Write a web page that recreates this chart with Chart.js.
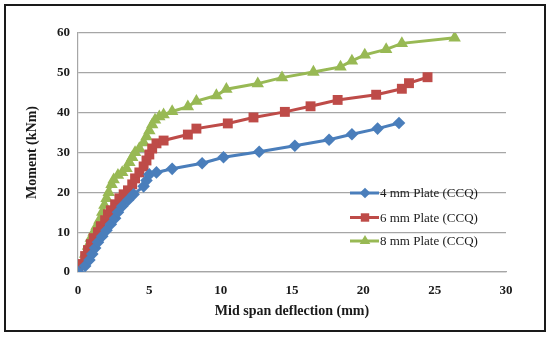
<!DOCTYPE html>
<html>
<head>
<meta charset="utf-8">
<script src="https://cdn.jsdelivr.net/npm/chart.js@4.4.1/dist/chart.umd.min.js"></script>
<style>
  html, body { margin: 0; padding: 0; background: #fff; }
  #wrap { position: relative; width: 550px; height: 338px; }
  #frame { position: absolute; left: 4px; top: 4px; width: 538px; height: 324px; border: 2px solid #1a1a1a; pointer-events: none; }
  canvas { position: absolute; left: 0; top: 0; }
</style>
</head>
<body>
<div id="wrap">
  <canvas id="c" width="550" height="338"></canvas>
  <div id="frame"></div>
</div>
<script>
const seriesNames = ["4 mm Plate (CCQ)", "6 mm Plate (CCQ)", "8 mm Plate (CCQ)"];

const deflection4 = [0, 0.5, 0.8, 1.0, 1.2, 1.4, 1.7, 2.0, 2.3, 2.6, 2.8, 3.1, 3.5, 3.9, 4.6, 4.8, 5.0, 5.5, 6.6, 8.7, 10.2, 12.7, 15.2, 17.6, 19.2, 21.0, 22.5];
const moment4     = [0, 1.5, 3.0, 4.5, 6.0, 7.5, 9.0, 10.5, 12.0, 13.5, 15.0, 16.5, 18.0, 19.5, 21.5, 23.0, 24.5, 25.0, 25.9, 27.3, 28.8, 30.2, 31.7, 33.2, 34.6, 36.0, 37.4];

const deflection6 = [0, 0.3, 0.5, 0.7, 0.9, 1.1, 1.4, 1.6, 1.9, 2.1, 2.3, 2.6, 2.9, 3.2, 3.5, 3.8, 4.0, 4.3, 4.6, 4.8, 5.0, 5.2, 5.5, 6.0, 7.7, 8.3, 10.5, 12.3, 14.5, 16.3, 18.2, 20.9, 22.7, 23.2, 24.5];
const moment6     = [0, 2.0, 4.0, 5.5, 7.0, 8.5, 10.0, 11.5, 13.0, 14.5, 15.5, 17.0, 18.5, 19.5, 20.5, 22.0, 23.5, 25.0, 26.5, 28.0, 29.5, 31.0, 32.3, 33.0, 34.5, 36.0, 37.3, 38.8, 40.2, 41.6, 43.2, 44.5, 46.0, 47.4, 48.9];

const deflection8 = [0, 0.3, 0.5, 0.7, 0.9, 1.1, 1.3, 1.5, 1.7, 1.85, 2.0, 2.15, 2.35, 2.5, 2.8, 3.1, 3.4, 3.6, 3.8, 4.0, 4.3, 4.6, 4.8, 5.0, 5.2, 5.4, 5.7, 6.0, 6.6, 7.7, 8.3, 9.7, 10.4, 12.6, 14.3, 16.5, 18.4, 19.2, 20.1, 21.6, 22.7, 26.4];
const moment8     = [0, 2.0, 4.5, 6.5, 8.5, 10.0, 11.5, 13.0, 15.0, 16.8, 18.5, 20.0, 22.0, 23.2, 24.3, 25.0, 26.0, 27.5, 28.8, 30.0, 31.0, 32.5, 34.0, 35.5, 37.0, 38.2, 39.0, 39.5, 40.3, 41.5, 42.9, 44.3, 45.9, 47.3, 48.8, 50.2, 51.5, 53.0, 54.5, 55.9, 57.4, 58.8];

const xTicks = [0, 5, 10, 15, 20, 25, 30];
const yTicks = [0, 10, 20, 30, 40, 50, 60];

const colors = ["#4a7ebb", "#be4b48", "#98b954"];
const styles = ["rectRot", "rect", "triangle"];
const radii = [6.3, 7, 7.2];

function pts(xs, ys) { return xs.map((x, i) => ({ x: x, y: ys[i] })); }

const datasets = [
  pts(deflection4, moment4),
  pts(deflection6, moment6),
  pts(deflection8, moment8)
].map((d, i) => ({
  label: seriesNames[i],
  data: d,
  borderColor: colors[i],
  backgroundColor: colors[i],
  pointStyle: styles[i],
  pointRadius: radii[i],
  pointBorderWidth: 0,
  borderWidth: 3,
  tension: 0,
  showLine: true
}));

const legendPlugin = {
  id: 'innerLegend',
  afterDraw(chart) {
    const ctx = chart.ctx;
    const rows = [193, 217.5, 241];
    ctx.save();
    datasets.forEach((ds, i) => {
      const y = rows[i];
      ctx.strokeStyle = ds.borderColor;
      ctx.lineWidth = 3;
      ctx.beginPath();
      ctx.moveTo(350, y);
      ctx.lineTo(379, y);
      ctx.stroke();
      ctx.fillStyle = ds.backgroundColor;
      Chart.helpers.drawPoint(ctx, { pointStyle: ds.pointStyle, radius: ds.pointRadius * 0.85, borderWidth: 0 }, 365, y);
      ctx.fillStyle = '#1a1a1a';
      ctx.font = '13px "Liberation Serif", serif';
      ctx.textBaseline = 'middle';
      ctx.textAlign = 'left';
      ctx.fillText(ds.label, 380, y + 1);
    });
    ctx.restore();
  }
};

new Chart(document.getElementById('c'), {
  type: 'scatter',
  data: { datasets: datasets },
  options: {
    responsive: false,
    animation: false,
    layout: { padding: { left: 24, right: 44, top: 33, bottom: 18 } },
    plugins: { legend: { display: false }, tooltip: { enabled: false } },
    scales: {
      x: {
        type: 'linear',
        min: 0, max: 30,
        afterBuildTicks: (s) => { s.ticks = xTicks.map(v => ({ value: v })); },
        afterFit: (s) => { s.height = 48; },
        grid: { display: false, drawTicks: false },
        border: { display: true, color: '#a6a6a6', width: 1.2 },
        ticks: { color: '#1a1a1a', font: { family: '"Liberation Serif", serif', size: 13, weight: 'bold' }, padding: 11, maxRotation: 0 },
        title: { display: true, text: 'Mid span deflection (mm)', color: '#1a1a1a', font: { family: '"Liberation Serif", serif', size: 14, weight: 'bold' }, padding: { top: 0, bottom: 0 } }
      },
      y: {
        type: 'linear',
        min: 0, max: 60,
        afterBuildTicks: (s) => { s.ticks = yTicks.map(v => ({ value: v })); },
        afterFit: (s) => { s.width = 54; },
        grid: { color: '#a6a6a6', lineWidth: 1.2, drawTicks: false },
        border: { display: true, color: '#a6a6a6', width: 1.2 },
        ticks: { color: '#1a1a1a', font: { family: '"Liberation Serif", serif', size: 13, weight: 'bold' }, padding: 8 },
        title: { display: true, text: 'Moment (kNm)', color: '#1a1a1a', font: { family: '"Liberation Serif", serif', size: 14, weight: 'bold' }, padding: { top: 0, bottom: 4 } }
      }
    }
  },
  plugins: [legendPlugin]
});
</script>
</body>
</html>
